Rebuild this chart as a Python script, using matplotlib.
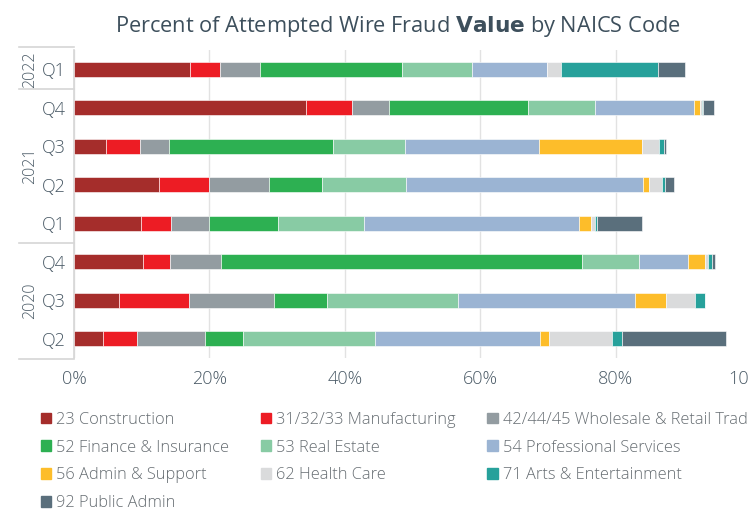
import numpy as np
import matplotlib
matplotlib.use("Agg")
import matplotlib.pyplot as plt
import matplotlib.patches as mpatches
from matplotlib.transforms import blended_transform_factory

plt.rcParams["font.family"] = ["Open Sans", "DejaVu Sans"]

# rows from top to bottom
quarters = ["Q1", "Q4", "Q3", "Q2", "Q1", "Q4", "Q3", "Q2"]
years = ["2022", "2021", "2020"]
year_rows = [(0, 0), (1, 4), (5, 7)]

sectors = [
    "23 Construction",
    "31/32/33 Manufacturing",
    "42/44/45 Wholesale & Retail Trade",
    "52 Finance & Insurance",
    "53 Real Estate",
    "54 Professional Services",
    "56 Admin & Support",
    "62 Health Care",
    "71 Arts & Entertainment",
    "92 Public Admin",
]

construction = [17.2, 34.2, 4.7, 12.5, 9.9, 10.2, 6.7, 4.3]
manufacturing = [4.4, 6.9, 5.0, 7.5, 4.4, 4.0, 10.3, 5.0]
wholesale = [5.9, 5.5, 4.4, 8.8, 5.7, 7.5, 12.5, 10.0]
finance = [20.9, 20.5, 24.2, 7.8, 10.1, 53.3, 7.9, 5.7]
real_estate = [10.4, 9.8, 10.6, 12.5, 12.8, 8.5, 19.3, 19.5]
professional = [11.0, 14.7, 19.8, 34.9, 31.7, 7.2, 26.2, 24.3]
admin = [0.1, 0.9, 15.2, 0.9, 1.7, 2.5, 4.5, 1.4]
health = [2.0, 0.3, 2.5, 2.0, 0.7, 0.4, 4.4, 9.3]
arts = [14.3, 0.1, 0.7, 0.4, 0.2, 0.6, 1.4, 1.5]
public_admin = [4.1, 1.6, 0.3, 1.3, 6.7, 0.5, 0.0, 15.3]

series = [construction, manufacturing, wholesale, finance, real_estate,
          professional, admin, health, arts, public_admin]

colors = ["#a52d2b", "#ed1c24", "#939ca1", "#2db052", "#88cba4",
          "#9bb4d3", "#fdbd2a", "#dadbdc", "#27a19b", "#5a6f7c"]

text_col = "#4a5a66"

fig = plt.figure(figsize=(7.48, 5.11), dpi=100)
ax = fig.add_axes([74 / 748, 1 - 358 / 511, 677 / 748, 308 / 511])

y = np.arange(len(quarters))
left = np.zeros(len(quarters))
for vals, col, name in zip(series, colors, sectors):
    vals = np.array(vals)
    ax.barh(y, vals, left=left, height=0.4, color=col, edgecolor="white",
            linewidth=0.4, label=name, zorder=3)
    left += vals

ax.set_xlim(0, 100)
ax.set_ylim(len(quarters) - 0.5, -0.5)
ax.set_xticks([0, 20, 40, 60, 80, 100])
ax.set_xticklabels(["0%", "20%", "40%", "60%", "80%", "100%"])
ax.set_yticks(y)
ax.set_yticklabels(quarters)
ax.tick_params(axis="both", length=0, labelsize=13, labelcolor=text_col)
ax.tick_params(axis="x", pad=9)
ax.tick_params(axis="y", pad=6)
for lbl in ax.get_xticklabels() + ax.get_yticklabels():
    lbl.set_fontweight("light")
ax.grid(axis="x", color="#e2e2e2", linewidth=1, zorder=0)
ax.spines[["top", "right", "bottom"]].set_visible(False)
ax.spines["left"].set_color("#d6d6d6")
ax.spines["left"].set_linewidth(1.2)

# year groups on the y axis
tr = blended_transform_factory(fig.transFigure, ax.transData)
x0, x1 = 19 / 748, 74 / 748
bounds = [-0.58, 0.5, 4.5, 7.53]
for b in bounds:
    ax.plot([x0, x1], [b, b], transform=tr, color="#d6d6d6", linewidth=1.2,
            clip_on=False)
for yr, (r0, r1) in zip(years, year_rows):
    ax.text(30 / 748, (r0 + r1) / 2, yr, transform=tr, rotation=90,
            ha="center", va="center", fontsize=11.5, color=text_col,
            fontweight="light")

ax.set_title("Percent of Attempted Wire Fraud $\\bf{Value}$ by NAICS Code",
             fontsize=15.7, color="#3d4f5c", pad=13, x=0.478)

handles = [mpatches.Patch(color=c) for c in colors]
order = [0, 3, 6, 9, 1, 4, 7, 2, 5, 8]
leg = fig.legend([handles[i] for i in order], [sectors[i] for i in order],
                 ncol=3, loc="upper left", bbox_to_anchor=(26 / 748, 1 - 397 / 511),
                 frameon=False, prop={"size": 11.8, "weight": "light"},
                 handlelength=0.62, handleheight=0.62,
                 handletextpad=0.3, columnspacing=1.95, labelspacing=0.72)
for t in leg.get_texts():
    t.set_color("#666d72")

fig.savefig("out.png", dpi=100)
